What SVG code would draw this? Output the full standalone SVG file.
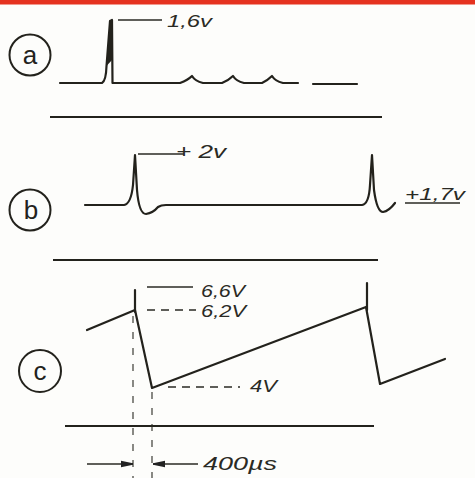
<svg xmlns="http://www.w3.org/2000/svg" width="475" height="478" viewBox="0 0 475 478">
  <defs>
    <marker id="ah" viewBox="0 0 12 8" refX="12" refY="4" markerWidth="12" markerHeight="8" markerUnits="userSpaceOnUse" orient="auto">
      <path d="M0,0.8 L12,3.2 L12,4.8 L0,7.2 Z" fill="#222"/>
    </marker>
  </defs>
  <style>
    .w { fill: none; stroke: #23221c; stroke-width: 2.2; stroke-linejoin: round; stroke-linecap: round; }
    .ax { fill: none; stroke: #23221c; stroke-width: 2; }
    .ld { fill: none; stroke: #2a2a24; stroke-width: 1.4; }
    .dash { fill: none; stroke: #2a2a24; stroke-width: 1.4; stroke-dasharray: 8 6; }
    .vd { fill: none; stroke: #2a2a24; stroke-width: 1.1; stroke-dasharray: 7 9; }
    .circ { fill: none; stroke: #23221c; stroke-width: 2; }
    .lbl { font-family: "Liberation Sans", Arial, sans-serif; font-style: italic; fill: #2a2a24; }
    .let { font-family: "Liberation Sans", Arial, sans-serif; fill: #23221c; font-size: 26px; text-anchor: middle; }
  </style>
  <rect x="0" y="0" width="475" height="478" fill="#fdfdfb"/>
  <rect x="0" y="0" width="475" height="4.5" fill="#e5321f"/>

  <g id="trace-a">
    <circle cx="30" cy="55" r="20.5" class="circ"/>
    <text x="30" y="64" class="let">a</text>
    <path class="w" d="M60,83 H102 Q106,81 106.5,66 L110,21 L112,20 L112.5,83 H180 Q188,80 192,76 Q195,81 203,83 H222 Q229,80 233,76 Q236,81 244,83 H262 Q268,80 272,76 Q275,81 283,83 H298"/>
    <path d="M106.5,66 L110,21 L112,21 L112,60 Z" fill="#23221c"/>
    <path class="w" d="M313,84 H357"/>
    <path class="ld" d="M118,20 H162"/>
    <text x="167" y="27" class="lbl" font-size="17" textLength="45" lengthAdjust="spacingAndGlyphs">1,6v</text>
    <path class="ax" d="M50,117 H382"/>
  </g>

  <g id="trace-b">
    <circle cx="30" cy="210" r="20.5" class="circ"/>
    <text x="31" y="219" class="let">b</text>
    <path class="w" d="M85,205 H124 Q131,204 133,185 L135,155 L137,190 Q139,214 146,214 Q153,213 158,207 Q161,205 166,205 H362 Q369,204 370,185 L372,155 L374,190 Q377,212 383,212 Q389,211 395,203"/>
    <path class="ld" d="M138,154 H184"/>
    <text x="176" y="158" class="lbl" font-size="18" textLength="50" lengthAdjust="spacingAndGlyphs">+ 2v</text>
    <path class="ld" d="M405,203 H460"/>
    <text x="405" y="200" class="lbl" font-size="16" textLength="60" lengthAdjust="spacingAndGlyphs">+1,7v</text>
    <path class="ax" d="M53,260 H378"/>
  </g>

  <g id="trace-c">
    <circle cx="40" cy="371" r="21" class="circ"/>
    <text x="40" y="380" class="let">c</text>
    <path class="w" d="M87,330 L135,310 L152,388 L366,307 L380,384 L445,359"/>
    <path class="w" d="M135,290 V312"/>
    <path class="w" d="M367,283 V310"/>
    <path class="ld" d="M147,287 H193"/>
    <text x="201" y="297" class="lbl" font-size="17" textLength="44" lengthAdjust="spacingAndGlyphs">6,6V</text>
    <path class="dash" d="M147,310 H196"/>
    <text x="201" y="317" class="lbl" font-size="17" textLength="45" lengthAdjust="spacingAndGlyphs">6,2V</text>
    <path class="dash" d="M168,387 H240"/>
    <text x="250" y="392" class="lbl" font-size="17" textLength="27" lengthAdjust="spacingAndGlyphs">4V</text>
    <path class="ax" d="M65,426 H374"/>
    <path class="vd" d="M133,316 V478"/>
    <path class="vd" d="M152,392 V478"/>
    <path class="ld" d="M87,464 H133" marker-end="url(#ah)"/>
    <path class="ld" d="M198,464 H153" marker-end="url(#ah)"/>
    <text x="203" y="470" class="lbl" font-size="18" textLength="74" lengthAdjust="spacingAndGlyphs">400µs</text>
  </g>
</svg>
